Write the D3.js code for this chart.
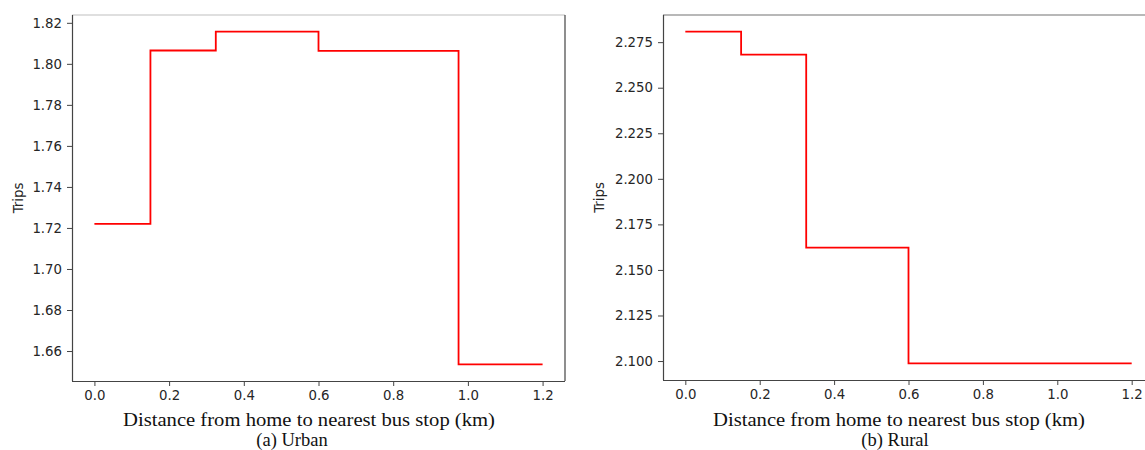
<!DOCTYPE html>
<html><head><meta charset="utf-8">
<script src="https://cdn.jsdelivr.net/npm/d3@7/dist/d3.min.js"></script>
<style>body{margin:0;background:#fff;}svg{display:block;}</style>
</head><body>
<svg id="c" width="1145" height="450"></svg>
<script>
// Data
const urbanX = [0, 0.15, 0.325, 0.6, 0.975, 1.2];
const urbanY = [1.722, 1.8065, 1.8157, 1.8063, 1.6535, 1.6535];
const ruralX = [0, 0.15, 0.325, 0.6, 1.2];
const ruralY = [2.2808, 2.2682, 2.1622, 2.0987, 2.0987];
const xTicks = [0.0, 0.2, 0.4, 0.6, 0.8, 1.0, 1.2];
const urbanYTicks = [1.66, 1.68, 1.70, 1.72, 1.74, 1.76, 1.78, 1.80, 1.82];
const ruralYTicks = [2.100, 2.125, 2.150, 2.175, 2.200, 2.225, 2.250, 2.275];
const xLabel = "Distance from home to nearest bus stop (km)";
const yLabel = "Trips";

const svg = d3.select("#c");

function panel(o) {
  const g = svg.append("g");
  const x = d3.scaleLinear().domain([-0.06, 1.26]).range([o.left, o.right]);
  const ymin = d3.min(o.ys), ymax = d3.max(o.ys), pad = (ymax - ymin) * 0.05;
  const y = d3.scaleLinear().domain([ymin - pad, ymax + pad]).range([o.bottom, o.top]);

  // spines
  g.append("line").attr("x1", o.left).attr("x2", o.right).attr("y1", o.top).attr("y2", o.top)
    .attr("stroke", o.topColor).attr("stroke-width", 1.5);
  g.append("line").attr("x1", o.right).attr("x2", o.right).attr("y1", o.top).attr("y2", o.bottom)
    .attr("stroke", "#444").attr("stroke-width", 1.2);

  const xa = g.append("g").attr("transform", `translate(0,${o.bottom})`)
    .call(d3.axisBottom(x).tickValues(xTicks).tickFormat(d3.format(".1f")).tickSizeOuter(0).tickSize(5).tickPadding(5));
  const ya = g.append("g").attr("transform", `translate(${o.left},0)`)
    .call(d3.axisLeft(y).tickValues(o.yTicks).tickFormat(d3.format(o.fmt)).tickSizeOuter(0).tickSize(5).tickPadding(5));
  [xa, ya].forEach(a => {
    a.selectAll("path.domain").attr("stroke", "#444").attr("stroke-width", 1.2);
    a.selectAll(".tick line").attr("stroke", "#444").attr("stroke-width", 1);
    a.selectAll("text").attr("font-family", "DejaVu Sans").attr("font-size", 13.3).attr("fill", "#262626");
  });
  xa.select("path.domain").attr("d", `M${o.left},0.5H${o.right}`);
  ya.select("path.domain").attr("d", `M0.5,${o.top}V${o.bottom}`);

  const pts = o.xs.map((d, i) => [d, o.ys[i]]);
  g.append("path").datum(pts)
    .attr("d", d3.line().x(d => x(d[0])).y(d => y(d[1])).curve(d3.curveStepAfter))
    .attr("fill", "none").attr("stroke", "#ff0000").attr("stroke-width", 1.8);

  g.append("text").attr("transform", `translate(${o.ylabX},${(o.top + o.bottom) / 2}) rotate(-90)`)
    .attr("text-anchor", "middle").attr("font-family", "DejaVu Sans").attr("font-size", 13.3)
    .attr("fill", "#262626").text(yLabel);

  g.append("text").attr("x", o.xlabX).attr("y", 426).attr("text-anchor", "middle")
    .attr("font-family", "Liberation Serif").attr("font-size", 19.5).attr("fill", "#111")
    .attr("textLength", 372).attr("lengthAdjust", "spacingAndGlyphs").text(xLabel);
  g.append("text").attr("x", o.capX).attr("y", 446).attr("text-anchor", "middle")
    .attr("font-family", "Liberation Serif").attr("font-size", 18.5).attr("fill", "#111")
    .text(o.caption);
}

panel({left: 72, right: 565, top: 15, bottom: 381, xs: urbanX, ys: urbanY,
  yTicks: urbanYTicks, fmt: ".2f", topColor: "#d4d4d4", ylabX: 23, xlabX: 309, capX: 292, caption: "(a) Urban"});
panel({left: 663, right: 1154, top: 15, bottom: 380, xs: ruralX, ys: ruralY,
  yTicks: ruralYTicks, fmt: ".3f", topColor: "#a0a0a0", ylabX: 604, xlabX: 899, capX: 895, caption: "(b) Rural"});
</script>
</body></html>
